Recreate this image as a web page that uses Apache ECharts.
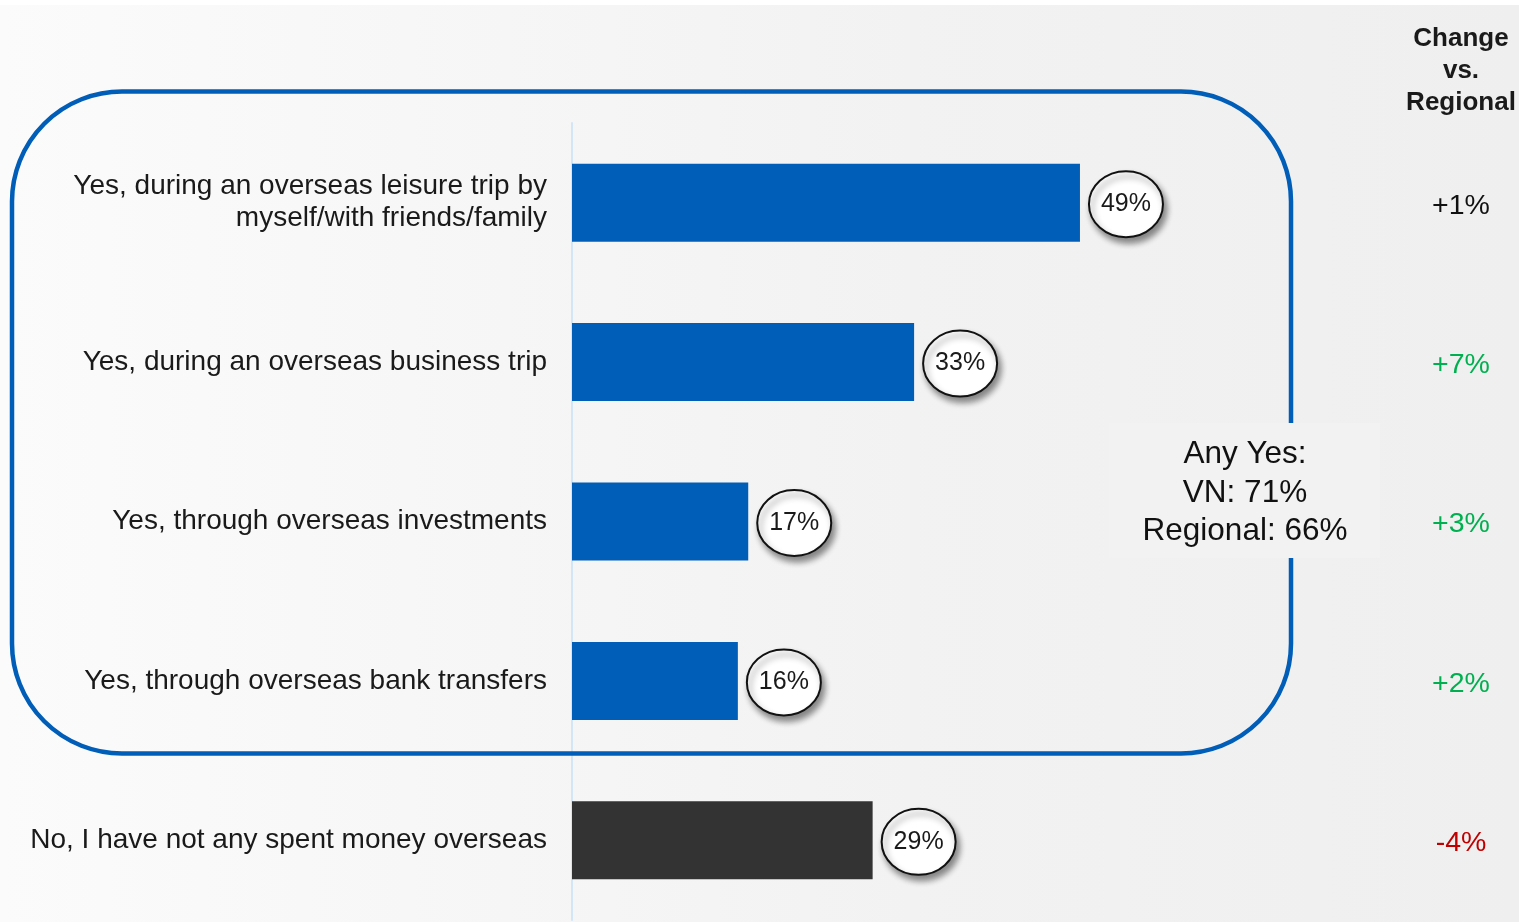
<!DOCTYPE html>
<html>
<head>
<meta charset="utf-8">
<title>Spending money overseas</title>
<script src="https://cdn.jsdelivr.net/npm/echarts@6/dist/echarts.min.js"></script>
<style>
  html, body { margin: 0; padding: 0; background: #ffffff; }
  #chart { width: 1519px; height: 922px; }
</style>
</head>
<body>
<div id="chart"></div>
<script>
// Survey answers (top to bottom)
const categories = [
  'Yes, during an overseas leisure trip by\nmyself/with friends/family',
  'Yes, during an overseas business trip',
  'Yes, through overseas investments',
  'Yes, through overseas bank transfers',
  'No, I have not any spent money overseas'
];
// Share of respondents, %
const shares = [49, 33, 17, 16, 29];
// Which answers count as a "Yes"
const isYes = [true, true, true, true, false];
// Change vs. regional average, percentage points
const changes = [1, 7, 3, 2, -4];
const changeSignificant = [false, true, true, true, true];
// Summary box
const anyYesVN = 71;
const anyYesRegional = 66;

const FONT = '"Liberation Sans", Arial, Helvetica, sans-serif';
const BLUE = '#005eb8';
const DARK = '#333333';
const CHANGE_X = 1461;

const chart = echarts.init(document.getElementById('chart'), null, { renderer: 'canvas' });

const option = {
  animation: false,
  backgroundColor: {
    type: 'linear', x: 0, y: 0, x2: 1, y2: 0,
    colorStops: [
      { offset: 0, color: '#fbfbfb' },
      { offset: 0.6, color: '#f2f2f2' },
      { offset: 1, color: '#efefef' }
    ]
  },
  grid: { left: 572, right: 14, top: 123, bottom: 2, containLabel: false },
  title: {
    text: 'Change\nvs.\nRegional',
    left: CHANGE_X - 5,
    top: 18,
    textAlign: 'center',
    textStyle: { fontFamily: FONT, fontSize: 26, fontWeight: 'bold', color: '#1a1a1a', lineHeight: 32 }
  },
  xAxis: {
    type: 'value', min: 0, max: 90, show: false
  },
  yAxis: {
    type: 'category',
    data: categories,
    inverse: true,
    axisLine: { show: true, lineStyle: { color: '#d3e6f8', width: 2 } },
    axisTick: { show: false },
    splitLine: { show: false },
    axisLabel: {
      margin: 25,
      fontFamily: FONT, fontSize: 28, color: '#1a1a1a', lineHeight: 32, align: 'right'
    }
  },
  graphic: [
    { type: 'rect', z: 0, silent: true, shape: { x: 0, y: 0, width: 1519, height: 5 }, style: { fill: '#ffffff' } },
    {
      type: 'rect', z: 1, silent: true,
      shape: { x: 12, y: 91.5, width: 1279, height: 662, r: 110 },
      style: { fill: 'none', stroke: BLUE, lineWidth: 4.5 }
    },
    {
      type: 'rect', z: 2, silent: true,
      shape: { x: 1109, y: 423, width: 271, height: 135 },
      style: { fill: '#f2f2f2' }
    },
    {
      type: 'text', z: 3, silent: true,
      x: 1245, y: 493,
      style: {
        text: 'Any Yes:\nVN: ' + anyYesVN + '%\nRegional: ' + anyYesRegional + '%',
        fontFamily: FONT, fontSize: 31.5, lineHeight: 38.5, fill: '#111111',
        align: 'center', verticalAlign: 'middle'
      }
    }
  ],
  series: [
    {
      type: 'bar',
      data: shares.map((v, i) => ({ value: v, itemStyle: { color: isYes[i] ? BLUE : DARK } })),
      barWidth: 78,
      z: 2
    },
    {
      // Value bubbles at the end of each bar
      type: 'custom',
      data: shares.map((v, i) => [v, i]),
      encode: { x: 0, y: 1 },
      clip: false,
      z: 4,
      renderItem: function (params, api) {
        const p = api.coord([api.value(0), api.value(1)]);
        const cx = p[0] + 46, cy = p[1] + 1.5;
        return {
          type: 'group',
          children: [
            {
              type: 'ellipse',
              shape: { cx: cx, cy: cy, rx: 37, ry: 33 },
              style: {
                fill: '#ffffff', stroke: '#111111', lineWidth: 2,
                shadowBlur: 6, shadowOffsetX: 3, shadowOffsetY: 5, shadowColor: 'rgba(0,0,0,0.45)'
              }
            },
            {
              type: 'text',
              x: cx, y: cy,
              style: {
                text: api.value(0) + '%',
                fontFamily: FONT, fontSize: 25, fill: '#1a1a1a',
                align: 'center', verticalAlign: 'middle'
              }
            }
          ]
        };
      }
    },
    {
      // "Change vs. Regional" column
      type: 'custom',
      data: changes.map((v, i) => [0, i, v]),
      encode: { x: 0, y: 1 },
      clip: false,
      z: 4,
      renderItem: function (params, api) {
        const i = params.dataIndex;
        const v = changes[i];
        const y = api.coord([0, i])[1] + 3;
        let color = '#111111';
        if (changeSignificant[i]) color = v > 0 ? '#00b050' : '#c00000';
        return {
          type: 'text',
          x: CHANGE_X, y: y,
          style: {
            text: (v > 0 ? '+' : '') + v + '%',
            fontFamily: FONT, fontSize: 28.5, fill: color,
            align: 'center', verticalAlign: 'middle'
          }
        };
      }
    }
  ]
};

chart.setOption(option);
</script>
</body>
</html>
